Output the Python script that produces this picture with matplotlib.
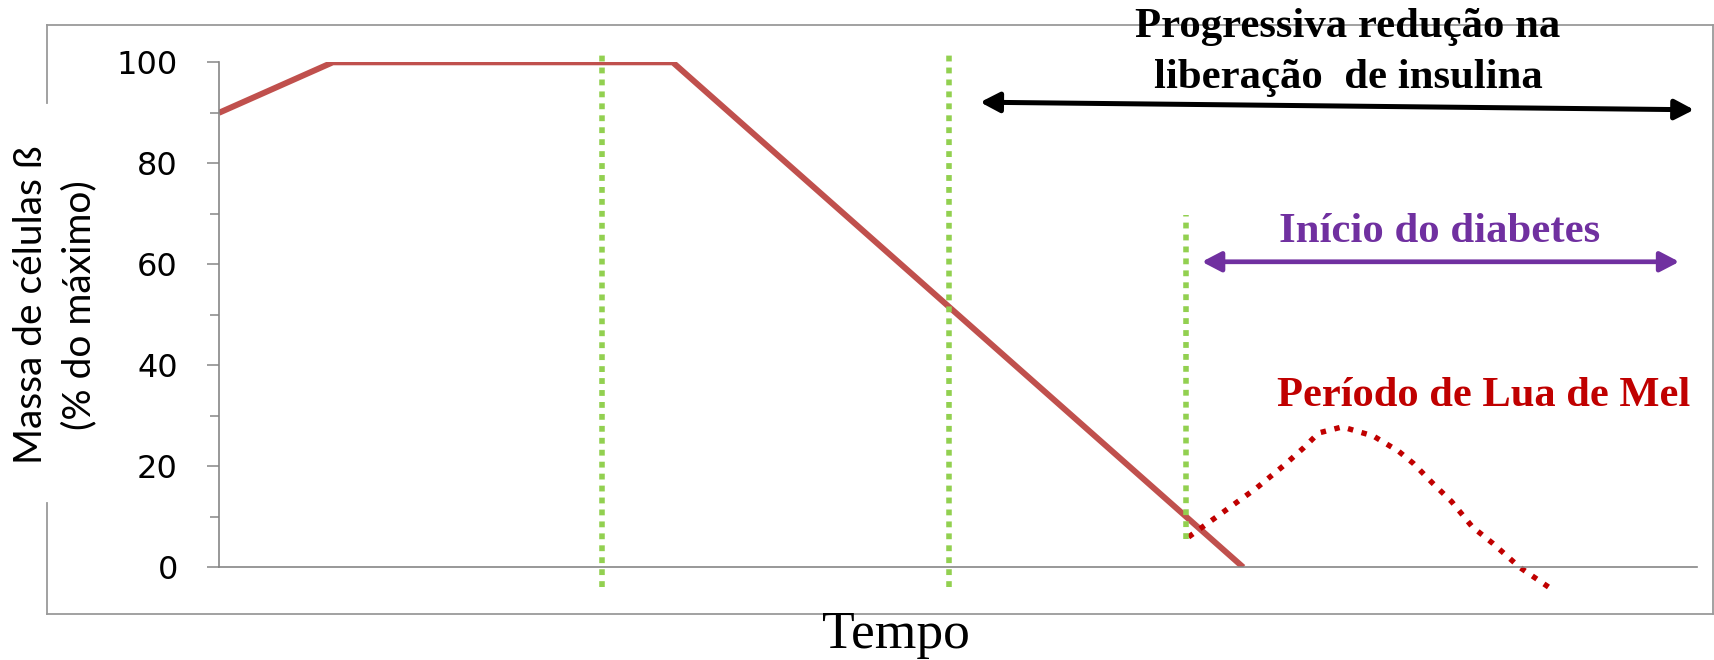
import matplotlib.pyplot as plt
from matplotlib.lines import Line2D

W, H = 1714, 660

# beta-cell mass curve (% of maximum) over time (arbitrary units 0-100)
mass_x = [0, 7.7, 30.7, 69.3]
mass_y = [90, 100, 100, 0]

# honeymoon period (dotted)
honey_x = [65.6, 67.5, 70.2, 72.1, 73.4, 74.4, 76.0, 78.1, 79.8, 80.8, 82.1, 83.4, 84.8, 86.2, 88.0, 90.0]
honey_y = [6, 10, 15.7, 20.3, 23.7, 26.6, 27.8, 26.0, 23.0, 20.6, 16.7, 13.0, 8.0, 4.7, 0, -4.0]

# green dotted markers: x, y bottom, y top
marker_x = [25.9, 49.4, 65.4]
marker_lo = [-3.9, -3.9, 5.6]
marker_hi = [101.5, 101.5, 69.8]

yticks = [0, 20, 40, 60, 80, 100]
yminor = [10, 30, 50, 70, 90]

insulin_arrow = [(51.5, 92.1), (99.8, 90.6)]
diabetes_arrow = [(66.5, 60.5), (98.8, 60.5)]


def fx(px):
    return px / W


def fy(py):
    return 1 - py / H


fig = plt.figure(figsize=(W / 100, H / 100), dpi=100)
ax = fig.add_axes([fx(219), fy(567.3), (1697 - 219) / W, (567.3 - 62.3) / H])

ax.plot(mass_x, mass_y, color="#C0504D", lw=4.3, solid_capstyle="butt")
ax.plot(honey_x, honey_y, color="#C00000", lw=3.9, linestyle=(0, (1.0, 1.6)),
        clip_on=False)

for x, lo, hi in zip(marker_x, marker_lo, marker_hi):
    ax.plot([x, x], [lo, hi], color="#92D050", lw=4.0,
            linestyle=(0, (1.05, 1.1)), clip_on=False)

head = "<|-|>,head_length=1.15,head_width=0.6"
ax.annotate("", xy=insulin_arrow[1], xytext=insulin_arrow[0],
            annotation_clip=False,
            arrowprops=dict(arrowstyle=head, color="black", lw=3.6,
                            shrinkA=0, shrinkB=0))
ax.annotate("", xy=diabetes_arrow[1], xytext=diabetes_arrow[0],
            annotation_clip=False,
            arrowprops=dict(arrowstyle=head, color="#7030A0", lw=3.4,
                            shrinkA=0, shrinkB=0))

ax.set_xlim(0, 100)
ax.set_ylim(0, 100)
ax.set_xticks([])
ax.set_yticks(yticks)
ax.set_yticks(yminor, minor=True)
ax.tick_params(axis="y", which="major", length=8.6, width=1.1, color="#868686",
               labelsize=23, pad=21)
ax.tick_params(axis="y", which="minor", length=6.5, width=1.1, color="#868686")
for s in ["top", "right"]:
    ax.spines[s].set_visible(False)
for s in ["left", "bottom"]:
    ax.spines[s].set_color("#868686")
    ax.spines[s].set_linewidth(1.2)
ax.patch.set_alpha(0)

# outer frame, broken on the left where the y label sits
frame = "#9A9A9A"
fig.add_artist(Line2D([fx(47), fx(1712.5)], [fy(614), fy(614)], color=frame, lw=1.3))
fig.add_artist(Line2D([fx(1712.5), fx(1712.5)], [fy(614), fy(25)], color=frame, lw=1.3))
fig.add_artist(Line2D([fx(47), fx(1712.5)], [fy(25), fy(25)], color=frame, lw=1.3))
fig.add_artist(Line2D([fx(47), fx(47)], [fy(25), fy(103)], color=frame, lw=1.3))
fig.add_artist(Line2D([fx(47), fx(47)], [fy(503), fy(614)], color=frame, lw=1.3))

# y label (two lines)
fig.text(fx(31), fy(305), "Massa de células ß", rotation=90, ha="center", va="center",
         fontsize=28, family="Lato")
fig.text(fx(79), fy(305), "(% do máximo)", rotation=90, ha="center", va="center",
         fontsize=28, family="Lato")

serif = "Liberation Serif"
fig.text(fx(896), fy(648), "Tempo", ha="center", va="baseline", fontsize=38.5, family=serif)
fig.text(fx(1348), fy(37), "Progressiva redução na", ha="center", va="baseline",
         fontsize=30.8, family=serif, weight="bold")
fig.text(fx(1348), fy(88), "liberação  de insulina", ha="center", va="baseline",
         fontsize=30.8, family=serif, weight="bold")
fig.text(fx(1440), fy(242), "Início do diabetes", ha="center", va="baseline",
         fontsize=30.8, family=serif, weight="bold", color="#7030A0")
fig.text(fx(1484), fy(406), "Período de Lua de Mel", ha="center", va="baseline",
         fontsize=30.6, family=serif, weight="bold", color="#C00000")

fig.savefig("out.png", dpi=100)
plt.close(fig)
